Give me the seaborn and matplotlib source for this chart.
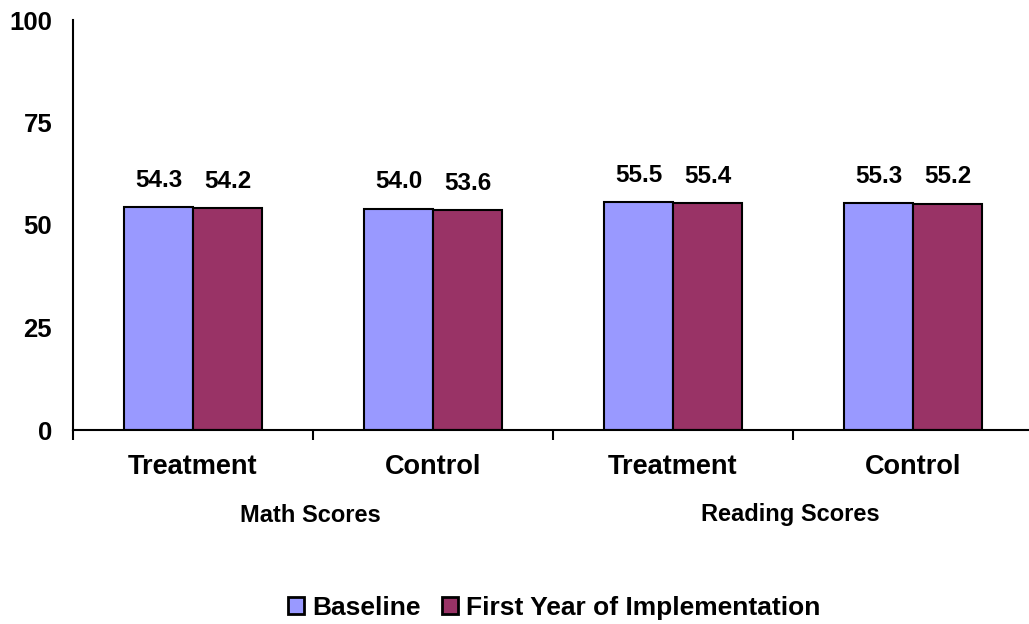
import matplotlib
matplotlib.use("Agg")
import matplotlib.pyplot as plt
import seaborn as sns
import pandas as pd
from matplotlib.patches import Patch

# Scores by subject and group
subjects = ["Math Scores", "Math Scores", "Reading Scores", "Reading Scores"]
groups = ["Treatment", "Control", "Treatment", "Control"]
baseline = [54.3, 54.0, 55.5, 55.3]
first_year = [54.2, 53.6, 55.4, 55.2]
series_names = ["Baseline", "First Year of Implementation"]
colors = ["#9999FF", "#993366"]
y_ticks = [0, 25, 50, 75, 100]

categories = [f"{g}\n{s}" for g, s in zip(groups, subjects)]
df = pd.DataFrame({
    "category": categories * 2,
    "series": [series_names[0]] * 4 + [series_names[1]] * 4,
    "value": baseline + first_year,
})

sns.set_style("white")
plt.rcParams["font.family"] = ["Liberation Sans", "DejaVu Sans"]
plt.rcParams["font.weight"] = "bold"
plt.rcParams["text.color"] = "black"
plt.rcParams["xtick.color"] = "black"
plt.rcParams["ytick.color"] = "black"
plt.rcParams["xtick.labelcolor"] = "black"
plt.rcParams["ytick.labelcolor"] = "black"
plt.rcParams["xtick.bottom"] = True
plt.rcParams["xtick.minor.bottom"] = True

fig = plt.figure(figsize=(10.29, 6.24), dpi=100)
ax = fig.add_axes([73 / 1029, 1 - 430 / 624, 960 / 1029, 410 / 624])

sns.barplot(data=df, x="category", y="value", hue="series", order=categories,
            hue_order=series_names, palette=colors, width=0.575,
            edgecolor="black", linewidth=1.5, saturation=1, ax=ax, legend=False)

for cont in ax.containers:
    ax.bar_label(cont, fmt="%.1f", padding=11, fontsize=17.5, fontweight="bold",
                 color="black")

ax.set_xlim(-0.5, 3.5)
ax.set_ylim(0, 100)
ax.set_yticks(y_ticks)
ax.set_yticklabels([str(t) for t in y_ticks], fontsize=18.5, fontweight="bold")
ax.tick_params(axis="y", length=0, pad=15)

ax.set_xticks(range(4))
ax.set_xticklabels(groups, fontsize=19.5, fontweight="bold")
ax.tick_params(axis="x", which="major", length=0, pad=17)
ax.set_xticks([-0.5, 0.5, 1.5, 2.5], minor=True)
ax.tick_params(axis="x", which="minor", bottom=True, length=7, width=1.5,
               direction="out", color="black")
ax.set_xlabel("")
ax.set_ylabel("")

for sp in ["top", "right"]:
    ax.spines[sp].set_visible(False)
for sp in ["left", "bottom"]:
    ax.spines[sp].set_color("black")
    ax.spines[sp].set_linewidth(1.5)

# Subject labels under each pair of groups
for xpos, subj in [(0.5, "Math Scores"), (2.5, "Reading Scores")]:
    ax.annotate(subj, xy=(xpos, 0), xycoords=("data", "axes fraction"),
                xytext=(-3, -85), textcoords="offset pixels",
                ha="center", va="center", fontsize=17, fontweight="bold")

handles = [Patch(facecolor=c, edgecolor="black", linewidth=2) for c in colors]
fig.legend(handles, series_names, loc="center", bbox_to_anchor=(554 / 1029, 1 - 608 / 624),
           ncol=2, frameon=False, prop={"size": 19, "weight": "bold"},
           handlelength=0.62, handleheight=0.62, handletextpad=0.3, columnspacing=0.8)

fig.savefig("out.png", dpi=100)
